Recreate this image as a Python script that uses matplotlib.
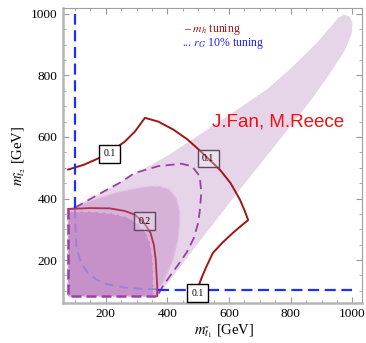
import matplotlib
matplotlib.use('Agg')
import matplotlib.pyplot as plt
from matplotlib.ticker import MultipleLocator

plt.rcParams['font.family'] = ['Liberation Serif', 'DejaVu Serif']
plt.rcParams['mathtext.fontset'] = 'stix'

# boundaries (GeV)
light_x = [80, 370, 500, 635, 764, 867, 930, 975, 998, 1000, 990, 972, 955, 930, 884, 800, 721, 550, 397, 250, 100, 80]
light_y = [85, 85, 255, 429, 591, 721, 810, 880, 935, 970, 992, 997, 988, 958, 905, 822, 753, 637, 537, 455, 372, 365]

mid_x = [78, 150, 235, 294, 343, 375, 405, 429, 440, 440, 435, 419, 391, 375, 368, 78]
mid_y = [365, 392, 420, 432, 440, 440, 430, 402, 362, 320, 267, 202, 137, 110, 83, 83]

dark_x = [78, 150, 220, 270, 305, 330, 345, 352, 355, 355, 78]
dark_y = [358, 358, 352, 340, 318, 290, 255, 210, 150, 83, 83]

# m_h tuning contours
c02_x = [78, 150, 213, 260, 294, 325, 345, 356, 362, 365, 367, 367]
c02_y = [366, 369, 368, 360, 348, 320, 289, 250, 202, 150, 115, 83]

c01_x = [78, 130, 175, 220, 262, 295, 327, 370, 419, 465, 505, 532, 570, 605, 635, 650, 662,
         640, 613, 580, 548, 527, 512, 505, 500]
c01_y = [494, 510, 530, 555, 585, 618, 662, 650, 624, 592, 556, 530, 494, 450, 397, 362, 330,
         312, 289, 258, 224, 180, 145, 127, 110]

# dashed contours
pur_x = [100, 170, 245, 294, 370, 445, 480, 505, 510, 505, 500, 485, 462, 435, 408, 385, 368]
pur_y = [370, 410, 451, 483, 505, 513, 505, 472, 418, 360, 321, 270, 224, 185, 148, 115, 85]

box_x = [78, 78, 370]
box_y = [365, 82, 82]

lav_x = [100, 102, 105, 115, 127, 145, 170, 200, 235, 270, 310, 340, 365]
lav_y = [365, 300, 245, 205, 180, 155, 137, 123, 115, 110, 107, 106, 105]

# r_G 10% tuning
rg_vx = [100, 100]
rg_vy = [370, 1000]
rg_hx = [368, 1000]
rg_hy = [103, 103]

label_text = ['0.1', '0.1', '0.2', '0.1']
label_x = [213, 532, 325, 497]
label_y = [545, 530, 326, 92]
label_solid = [True, False, False, True]

fig = plt.figure(figsize=(3.66, 3.43), dpi=100)
ax = fig.add_axes([0.171, 0.116, 0.817, 0.860])

ax.fill(light_x, light_y, color='#e6d4e8', lw=0, zorder=1)
ax.fill(mid_x, mid_y, facecolor='#d6b2d8', edgecolor='#e6c2e6', lw=1, ls='--', zorder=2)
ax.fill(dark_x, dark_y, facecolor='#c690c9', edgecolor='#dcb4de', lw=1, ls='--', zorder=3)

ax.plot(lav_x, lav_y, color='#9a7fe0', lw=1.3, ls=(0, (5, 3)), zorder=4)
ax.plot(pur_x, pur_y, color='#9a3fa6', lw=1.3, ls=(0, (5, 3)), zorder=4)
ax.plot(box_x, box_y, color='#9a3fa6', lw=1.8, ls=(0, (4, 2)), zorder=4)

ax.plot(c02_x, c02_y, color='#b0304f', lw=1.3, zorder=5)
ax.plot(c01_x, c01_y, color='#a01515', lw=1.4, zorder=5)

ax.plot(rg_vx, rg_vy, color='#1f2fff', lw=1.6, ls=(0, (5, 2.5)), zorder=6)
ax.plot(rg_hx, rg_hy, color='#1f2fff', lw=1.6, ls=(0, (5, 2.5)), zorder=6)

for t, x, y, solid in zip(label_text, label_x, label_y, label_solid):
    if solid:
        bb = dict(boxstyle='square,pad=0.45', facecolor='white', edgecolor='black', lw=1)
    else:
        bb = dict(boxstyle='square,pad=0.45', facecolor=(1, 1, 1, 0.3), edgecolor='#5a4a5a', lw=1)
    ax.text(x, y, t, fontsize=7, ha='center', va='center', bbox=bb, zorder=7)

ax.text(454, 950, '\u2013 $m_h$ tuning', color='#a01818', fontsize=8.5, ha='left', va='center')
ax.text(448, 902, '... $r_G$ 10% tuning', color='#2020ff', fontsize=8.5, ha='left', va='center')
ax.text(760, 648, 'J.Fan, M.Reece', color='#f01010', fontsize=13.5,
        family=['Liberation Sans', 'DejaVu Sans'], ha='center', va='center')

ax.set_xlim(60, 1030)
ax.set_ylim(60, 1018)
ax.xaxis.set_major_locator(MultipleLocator(200))
ax.yaxis.set_major_locator(MultipleLocator(200))
ax.xaxis.set_minor_locator(MultipleLocator(50))
ax.yaxis.set_minor_locator(MultipleLocator(50))
ax.tick_params(which='both', direction='in', top=True, right=True, color='#999999', labelsize=9.5)
ax.tick_params(which='major', length=4)
ax.tick_params(which='minor', length=2)
for side in ['left', 'bottom']:
    ax.spines[side].set_color('#b5b5b5')
    ax.spines[side].set_linewidth(1.8)
for side in ['top', 'right']:
    ax.spines[side].set_color('#a0a0a0')
    ax.spines[side].set_linewidth(0.8)

ax.set_xlabel(r'$m_{\tilde{t}_1}$ [GeV]', fontsize=10.5, labelpad=2)
ax.xaxis.label.set_x(0.54)
ax.set_ylabel(r'$m_{\tilde{t}_2}$ [GeV]', fontsize=10.5, labelpad=2)

fig.savefig('out.png', dpi=100)
